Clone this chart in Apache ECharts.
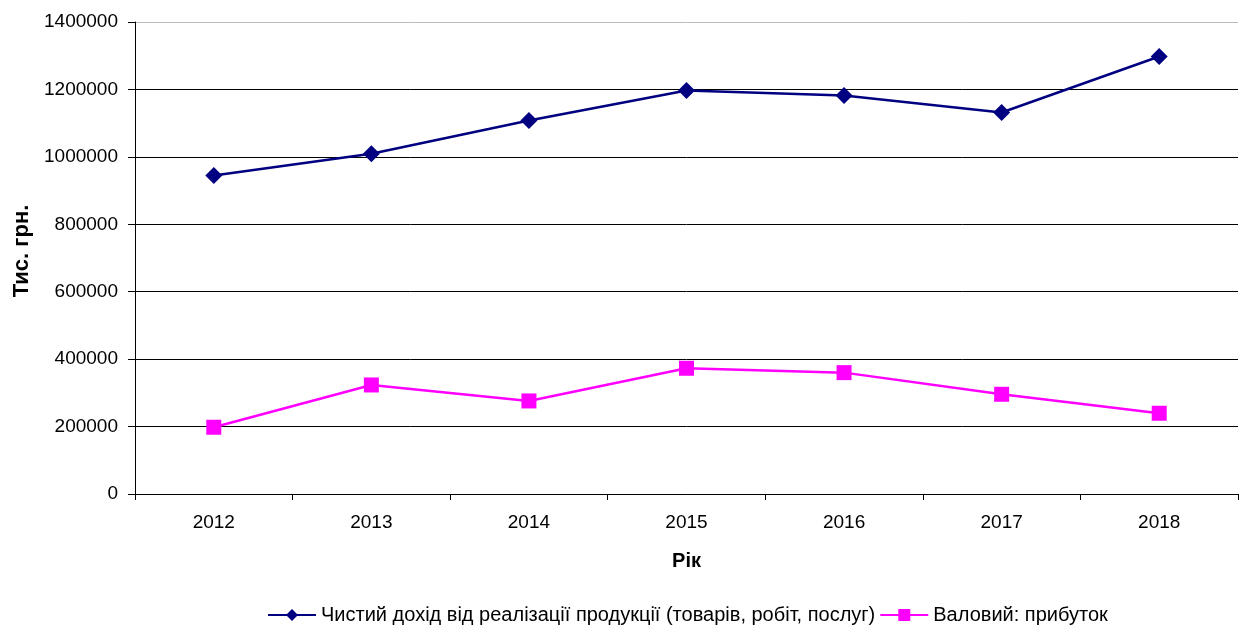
<!DOCTYPE html>
<html>
<head>
<meta charset="utf-8">
<style>
  * { margin: 0; padding: 0; }
  #container { width: 1242px; height: 626px; background: #fff; }
</style>
</head>
<body>
<div id="container"></div>
<script src="https://cdn.jsdelivr.net/npm/echarts@6/dist/echarts.min.js"></script>
<script>
var years = ['2012', '2013', '2014', '2015', '2016', '2017', '2018'];
var netIncome = [944500, 1009000, 1107700, 1196700, 1181900, 1131500, 1297600];
var grossProfit = [198000, 323400, 276000, 373000, 360000, 295800, 239500];
var seriesNames = ['Чистий дохід від реалізації продукції (товарів, робіт, послуг)', 'Валовий: прибуток'];

var myChart = echarts.init(document.getElementById('container'));
var font = 'Liberation Sans, Arial, sans-serif';

var option = {
  animation: false,
  textStyle: { fontFamily: font },
  grid: { left: 135, right: 4, top: 22, bottom: 132 },
  legend: {
    top: 600,
    left: 262,
    itemWidth: 48,
    itemHeight: 15,
    itemGap: 4,
    itemTextGap: 2,
    textStyle: { fontSize: 20, color: '#000', fontFamily: font },
    data: seriesNames
  },
  xAxis: {
    type: 'category',
    data: years,
    boundaryGap: true,
    name: 'Рік',
    nameLocation: 'middle',
    nameGap: 57,
    nameTextStyle: { fontSize: 20, fontWeight: 'bold', color: '#000' },
    axisLine: { lineStyle: { color: '#000', width: 1 } },
    axisTick: { show: true, length: 6, lineStyle: { color: '#000' } },
    axisLabel: { fontSize: 19, color: '#000', margin: 19 }
  },
  yAxis: {
    type: 'value',
    min: 0,
    max: 1400000,
    interval: 200000,
    name: 'Тис. грн.',
    nameLocation: 'middle',
    nameGap: 101,
    nameTextStyle: { fontSize: 22, fontWeight: 'bold', color: '#000', padding: [0, 0, 0, 14] },
    axisLine: { show: true, lineStyle: { color: '#000', width: 1 } },
    axisTick: { show: true, length: 7, lineStyle: { color: '#000' } },
    axisLabel: { fontSize: 19, color: '#000', margin: 17, formatter: function (v) { return String(v); } },
    splitLine: { show: true, lineStyle: { color: ['#000', '#000', '#000', '#000', '#000', '#000', '#000', '#bbb'], width: 1 } }
  },
  series: [
    {
      name: seriesNames[0],
      type: 'line',
      data: netIncome,
      symbol: 'diamond',
      symbolSize: 17,
      lineStyle: { color: '#000080', width: 2.5 },
      itemStyle: { color: '#000080' }
    },
    {
      name: seriesNames[1],
      type: 'line',
      data: grossProfit,
      symbol: 'rect',
      symbolSize: 15,
      lineStyle: { color: '#ff00ff', width: 2.5 },
      itemStyle: { color: '#ff00ff' }
    }
  ]
};

myChart.setOption(option);
</script>
</body>
</html>
